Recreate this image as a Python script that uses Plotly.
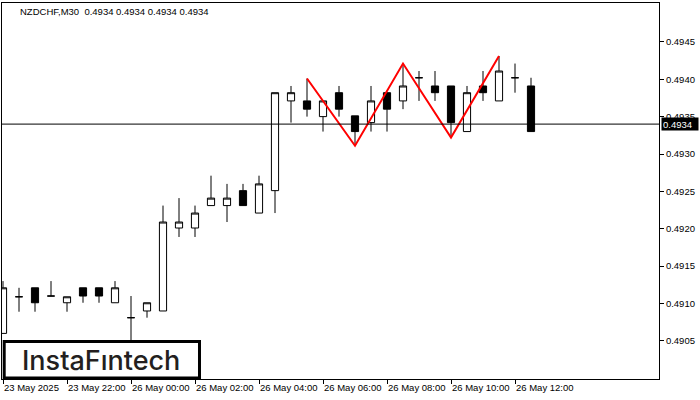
import plotly.graph_objects as go

# ---------------- data ----------------
bar_idx = list(range(34))
opens = [0.49060, 0.49109, 0.49121, 0.49110, 0.49101, 0.49121, 0.49121, 0.49101,
         0.49081, 0.49090, 0.49090, 0.49201, 0.49201, 0.49231, 0.49231, 0.49251,
         0.49221, 0.49251, 0.49371, 0.49371, 0.49350, 0.49382, 0.49351, 0.49342,
         0.49382, 0.49371, 0.49402, 0.49391, 0.49391, 0.49330, 0.49391, 0.49371,
         0.49402, 0.49391]
highs = [0.49130, 0.49121, 0.49121, 0.49130, 0.49109, 0.49121, 0.49121, 0.49130,
         0.49110, 0.49101, 0.49231, 0.49241, 0.49231, 0.49271, 0.49260, 0.49260,
         0.49271, 0.49382, 0.49391, 0.49401, 0.49371, 0.49391, 0.49351, 0.49391,
         0.49382, 0.49421, 0.49411, 0.49411, 0.49391, 0.49391, 0.49411, 0.49431,
         0.49421, 0.49402]
lows = [0.49060, 0.49089, 0.49089, 0.49110, 0.49089, 0.49101, 0.49101, 0.49101,
        0.49000, 0.49081, 0.49090, 0.49189, 0.49189, 0.49231, 0.49209, 0.49231,
        0.49221, 0.49221, 0.49342, 0.49350, 0.49330, 0.49350, 0.49311, 0.49330,
        0.49330, 0.49360, 0.49371, 0.49371, 0.49322, 0.49330, 0.49371, 0.49371,
        0.49382, 0.49330]
closes = [0.49121, 0.49109, 0.49101, 0.49110, 0.49109, 0.49110, 0.49110, 0.49121,
          0.49081, 0.49101, 0.49209, 0.49209, 0.49221, 0.49241, 0.49241, 0.49231,
          0.49260, 0.49382, 0.49382, 0.49360, 0.49371, 0.49360, 0.49330, 0.49371,
          0.49360, 0.49391, 0.49402, 0.49382, 0.49342, 0.49382, 0.49382, 0.49411,
          0.49402, 0.49330]

pattern_idx = [19, 22, 25, 28, 31]
pattern_vals = [0.49401, 0.49311, 0.49421, 0.49322, 0.49431]

x_tick_idx = [0, 4, 8, 12, 16, 20, 24, 28, 32]
x_tick_text = ["23 May 2025", "23 May 22:00", "26 May 00:00", "26 May 02:00",
               "26 May 04:00", "26 May 06:00", "26 May 08:00", "26 May 10:00",
               "26 May 12:00"]
y_tick_vals = [0.4905, 0.4910, 0.4915, 0.4920, 0.4925, 0.4930, 0.4935, 0.4940, 0.4945]

current_price = 0.4934
title_text = "NZDCHF,M30  0.4934 0.4934 0.4934 0.4934"

# ---------------- figure ----------------
FONT = "Liberation Sans"
fig = go.Figure()

fig.add_trace(go.Candlestick(
    x=bar_idx, open=opens, high=highs, low=lows, close=closes,
    increasing=dict(fillcolor="white", line=dict(color="black", width=1)),
    decreasing=dict(fillcolor="black", line=dict(color="black", width=1)),
    showlegend=False, hoverinfo="skip",
))

fig.add_trace(go.Scatter(
    x=pattern_idx, y=pattern_vals, mode="lines",
    line=dict(color="#ff0000", width=2), showlegend=False, hoverinfo="skip",
))

fig.add_shape(type="line", xref="paper", x0=0, x1=1, yref="y",
              y0=current_price, y1=current_price,
              line=dict(color="black", width=1), layer="above")

# logo box
fig.add_shape(type="rect", xref="paper", yref="paper",
              x0=0.00335, x1=0.3006, y0=0.00266, y1=0.0997,
              line=dict(color="black", width=3), fillcolor="white", layer="above")
fig.add_annotation(xref="paper", yref="paper", x=0.1507, y=0.0505,
                   text="InstaFıntech", showarrow=False,
                   font=dict(family="Inter", size=27, color="#231f20", weight=500),
                   xanchor="center", yanchor="middle")

# title
fig.add_annotation(xref="paper", yref="paper", x=0.0244, y=1, yshift=-1,
                   xanchor="left", yanchor="top", text=title_text, showarrow=False,
                   font=dict(family=FONT, size=9.5, color="black"))

# price label
fig.add_annotation(xref="paper", yref="y", x=1, xshift=2, y=current_price,
                   xanchor="left", yanchor="middle", text=str(current_price),
                   showarrow=False, bgcolor="black", width=34, height=10,
                   align="left", borderpad=1,
                   font=dict(family=FONT, size=9.5, color="white"))

fig.update_layout(
    width=700, height=400,
    margin=dict(l=2, r=41, t=3, b=21, autoexpand=False),
    paper_bgcolor="white", plot_bgcolor="white",
    boxgap=0.36,
    xaxis=dict(range=[-0.0625, 41.0], tickmode="array", tickvals=x_tick_idx,
               ticktext=x_tick_text, ticks="outside", ticklen=4, tickcolor="black",
               showgrid=False, zeroline=False, showline=True, mirror=True,
               linecolor="black", linewidth=1, ticklabelposition="outside right",
               tickangle=0, automargin=False,
               rangeslider=dict(visible=False),
               tickfont=dict(family=FONT, size=9.5, color="black")),
    yaxis=dict(side="right", range=[0.48999, 0.49502], tickmode="array",
               tickvals=y_tick_vals, tickformat=".4f", ticks="outside", ticklen=4,
               tickcolor="black", showgrid=False, zeroline=False, showline=True,
               mirror=True, linecolor="black", linewidth=1, automargin=False,
               tickfont=dict(family=FONT, size=9.5, color="black")),
)

fig.write_html("out.html", config={"displayModeBar": False},
               post_script="document.body.style.margin='0';")
